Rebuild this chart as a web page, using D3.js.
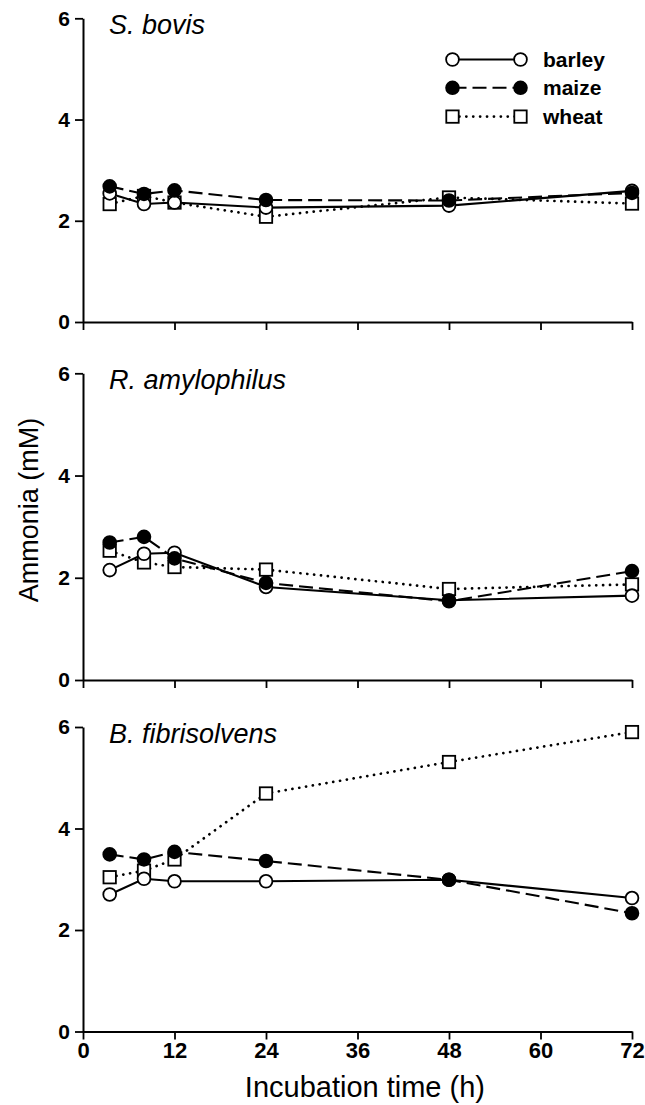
<!DOCTYPE html>
<html><head><meta charset="utf-8">
<script src="https://cdn.jsdelivr.net/npm/d3@7"></script>
<style>
body{margin:0;background:#fff}
svg{display:block}
text{font-family:"Liberation Sans",Arial,Helvetica,sans-serif;fill:#000}
</style></head>
<body>
<svg id="chart" width="645" height="1105"></svg>
<script>
// ---- data ----
const times = [3.5, 8, 12, 24, 48, 72];
const xTicks = [0, 12, 24, 36, 48, 60, 72];
const yTicks = [0, 2, 4, 6];
const panelNames = ["S. bovis", "R. amylophilus", "B. fibrisolvens"];
const seriesNames = ["barley", "maize", "wheat"];

const sBovisBarley = [2.54, 2.33, 2.36, 2.26, 2.30, 2.59];
const sBovisMaize  = [2.68, 2.53, 2.60, 2.41, 2.40, 2.55];
const sBovisWheat  = [2.33, 2.49, 2.36, 2.08, 2.46, 2.34];

const rAmyBarley = [2.15, 2.47, 2.49, 1.82, 1.56, 1.65];
const rAmyMaize  = [2.69, 2.80, 2.38, 1.90, 1.54, 2.13];
const rAmyWheat  = [2.53, 2.30, 2.21, 2.16, 1.78, 1.87];

const bFibBarley = [2.70, 3.01, 2.96, 2.96, 2.99, 2.63];
const bFibMaize  = [3.49, 3.39, 3.54, 3.36, 2.99, 2.33];
const bFibWheat  = [3.04, 3.17, 3.39, 4.69, 5.31, 5.90];

const panelSeries = [
  {barley: sBovisBarley, maize: sBovisMaize, wheat: sBovisWheat},
  {barley: rAmyBarley, maize: rAmyMaize, wheat: rAmyWheat},
  {barley: bFibBarley, maize: bFibMaize, wheat: bFibWheat}
];

// ---- layout / style ----
const svg = d3.select("#chart");
const xLeft = 83, xRight = 632;
const panelRanges = [[322, 18.3], [680, 373.3], [1031.5, 727]];
const styles = {
  barley: {dash: null, fill: "#fff", shape: "circle"},
  maize:  {dash: "14,6", fill: "#000", shape: "circle"},
  wheat:  {dash: "0.1,6.8", fill: "#fff", shape: "square", cap: "round", width: 2.7}
};
const drawOrder = ["wheat", "barley", "maize"];

const x = d3.scaleLinear().domain([0, 72]).range([xLeft, xRight]);

function marker(g, name, cx, cy) {
  const s = styles[name];
  if (s.shape === "circle") {
    g.append("circle").attr("cx", cx).attr("cy", cy).attr("r", 6.4)
      .attr("fill", s.fill).attr("stroke", "#000").attr("stroke-width", 1.8);
  } else {
    g.append("rect").attr("x", cx - 6.2).attr("y", cy - 6.2).attr("width", 12.4).attr("height", 12.4)
      .attr("fill", s.fill).attr("stroke", "#000").attr("stroke-width", 1.8);
  }
}

panelNames.forEach((pname, pi) => {
  const y = d3.scaleLinear().domain([0, 6]).range(panelRanges[pi]);
  const g = svg.append("g");

  // y axis
  const ya = g.append("g").attr("transform", `translate(${xLeft},0)`)
    .call(d3.axisLeft(y).tickValues(yTicks).tickSize(8).tickSizeOuter(0).tickPadding(5)
      .tickFormat(d3.format("d")));
  ya.select(".domain").attr("stroke-width", 2);
  ya.selectAll(".tick line").attr("stroke-width", 1.8);
  ya.selectAll(".tick text").style("font-size", "21px").style("font-weight", "bold")
    .attr("font-family", null);

  // x axis
  const xa = g.append("g").attr("transform", `translate(0,${panelRanges[pi][0]})`)
    .call(d3.axisBottom(x).tickValues(xTicks).tickSize(8).tickSizeOuter(0).tickPadding(3)
      .tickFormat(pi === 2 ? d3.format("d") : ""));
  xa.select(".domain").attr("stroke-width", 2);
  xa.selectAll(".tick line").attr("stroke-width", 1.8);
  xa.selectAll(".tick text").style("font-size", "22px").style("font-weight", "bold")
    .attr("font-family", null);

  // panel title
  g.append("text").attr("x", 109).attr("y", panelRanges[pi][1] + 16)
    .style("font-size", "27px").style("font-style", "italic").text(pname);

  // series
  drawOrder.forEach(name => {
    const vals = panelSeries[pi][name];
    const pts = times.map((t, i) => [t, vals[i]]);
    const s = styles[name];
    const line = d3.line().x(d => x(d[0])).y(d => y(d[1]));
    g.append("path").datum(pts).attr("d", line).attr("fill", "none")
      .attr("stroke", "#000").attr("stroke-width", s.width || 2.1)
      .attr("stroke-dasharray", s.dash).attr("stroke-linecap", s.cap || "butt");
    pts.forEach(p => marker(g, name, x(p[0]), y(p[1])));
  });
});

// legend (top panel)
const legendRows = [59.5, 87.8, 116.6];
const lg = svg.append("g");
seriesNames.forEach((name, i) => {
  const s = styles[name];
  const ly = legendRows[i];
  lg.append("line").attr("x1", 452.5).attr("x2", 520.5).attr("y1", ly).attr("y2", ly)
    .attr("stroke", "#000").attr("stroke-width", s.width || 2.1)
    .attr("stroke-dasharray", s.dash).attr("stroke-linecap", s.cap || "butt");
  marker(lg, name, 452.5, ly);
  marker(lg, name, 520.5, ly);
  lg.append("text").attr("x", 543).attr("y", ly + 7)
    .style("font-size", "21px").style("font-weight", "bold").text(name);
});

// axis titles
svg.append("text").attr("x", 485).attr("y", 1097).attr("text-anchor", "end")
  .style("font-size", "29px").text("Incubation time (h)");
svg.append("text").attr("transform", "translate(38,510) rotate(-90)")
  .attr("text-anchor", "middle").style("font-size", "27px").text("Ammonia (mM)");
</script>
</body></html>
